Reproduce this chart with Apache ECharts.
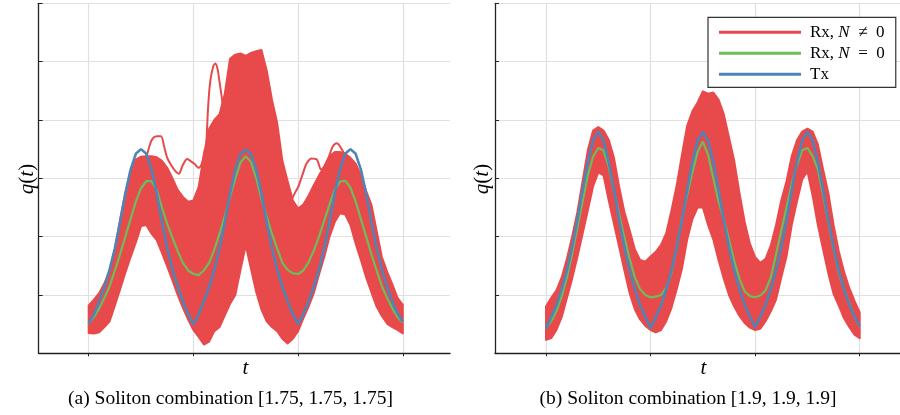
<!DOCTYPE html>
<html>
<head>
<meta charset="utf-8">
<script src="https://cdn.jsdelivr.net/npm/echarts@6.0.0/dist/echarts.min.js"></script>
<style>
  html, body { margin: 0; padding: 0; background: #fff; }
  #chart { width: 900px; height: 415px; }
</style>
</head>
<body>
<div id="chart"></div>
<script>
// sample positions along t (tick marks sit at 0, 1, 2, 3)
const tValues = [0,0.05,0.1,0.15,0.2,0.25,0.3,0.35,0.4,0.45,0.5,0.55,0.6,0.65,0.7,0.75,0.8,0.85,0.9,0.95,1,
  1.05,1.1,1.15,1.2,1.25,1.3,1.35,1.4,1.45,1.5,1.55,1.6,1.65,1.7,1.75,1.8,1.85,1.9,1.95,2,
  2.05,2.1,2.15,2.2,2.25,2.3,2.35,2.4,2.45,2.5,2.55,2.6,2.65,2.7,2.75,2.8,2.85,2.9,2.95,3];
const xTicks = [0, 1, 2, 3];

// (a) [1.75, 1.75, 1.75]
const txA = [0.51,0.67,0.89,1.14,1.44,1.80,2.25,2.74,3.15,3.42,3.50,3.42,3.15,2.74,2.25,1.80,1.44,1.14,0.89,0.67,0.49,
  0.67,0.89,1.14,1.44,1.80,2.25,2.74,3.15,3.42,3.49,3.42,3.15,2.74,2.25,1.80,1.44,1.14,0.89,0.67,0.50,
  0.67,0.89,1.14,1.44,1.80,2.25,2.74,3.15,3.42,3.50,3.42,3.15,2.74,2.25,1.80,1.44,1.14,0.89,0.68,0.54];
const rxCleanA = [0.51,0.62,0.77,0.95,1.15,1.42,1.70,2.00,2.30,2.60,2.83,2.95,2.95,2.80,2.50,2.22,1.98,1.75,1.55,1.42,1.36,
  1.34,1.42,1.55,1.78,2.05,2.35,2.68,3.00,3.27,3.38,3.28,3.00,2.65,2.35,2.05,1.80,1.55,1.43,1.37,1.36,
  1.42,1.56,1.76,2.00,2.28,2.55,2.80,2.94,2.96,2.84,2.60,2.30,2.00,1.70,1.42,1.15,0.95,0.77,0.62,0.53];
const rxUpperA = [0.82,0.92,1.03,1.20,1.42,1.78,2.30,2.75,3.12,3.32,3.37,3.38,3.38,3.36,3.30,3.18,3.00,2.80,2.68,2.60,2.62,
  2.85,3.40,3.85,4.00,4.10,4.45,5.05,5.12,5.14,5.10,5.15,5.18,5.20,4.85,4.35,3.95,3.30,2.95,2.62,2.48,
  2.55,2.70,2.88,3.05,3.20,3.38,3.45,3.45,3.42,3.35,3.25,3.05,2.78,2.55,2.10,1.65,1.40,1.18,0.95,0.83];
const rxLowerA = [0.35,0.34,0.36,0.45,0.55,0.82,1.10,1.38,1.65,1.90,2.18,2.20,2.05,1.94,1.72,1.49,1.25,1.00,0.78,0.58,0.40,
  0.28,0.15,0.20,0.38,0.45,0.65,0.85,1.00,1.43,1.85,1.45,1.05,0.75,0.55,0.45,0.38,0.25,0.17,0.25,0.38,
  0.60,0.80,1.03,1.35,1.65,2.00,2.25,2.40,2.38,2.20,1.88,1.60,1.30,1.05,0.80,0.64,0.51,0.45,0.40,0.34];
// single noisy traces that stick out of the bulk
const strayA1 = [[1.05,2.6],[1.09,3.0],[1.12,3.5],[1.14,4.2],[1.16,4.65],[1.19,4.92],[1.21,4.97],[1.23,4.88],[1.25,4.65],[1.27,4.4],[1.29,4.1],[1.31,3.8]];
const strayA2 = [[0.55,3.35],[0.58,3.55],[0.61,3.68],[0.65,3.72],[0.69,3.72],[0.72,3.55],[0.75,3.35],[0.79,3.22],[0.83,3.12],[0.86,3.08],[0.9,3.23],[0.94,3.33],[0.97,3.3],[1.01,3.25],[1.05,3.18],[1.08,3.25],[1.11,3.5]];
const strayA3 = [[1.93,2.6],[1.97,2.75],[2.0,2.85],[2.04,3.05],[2.08,3.25],[2.13,3.34],[2.18,3.32],[2.22,3.15],[2.25,3.2],[2.29,3.35],[2.33,3.54],[2.37,3.6],[2.41,3.52],[2.44,3.42]];

// (b) [1.9, 1.9, 1.9]
const txB = [0.43,0.62,0.82,1.10,1.42,1.82,2.28,2.80,3.28,3.65,3.80,3.65,3.28,2.80,2.28,1.82,1.42,1.10,0.82,0.62,0.43,
  0.62,0.82,1.10,1.42,1.82,2.28,2.80,3.28,3.65,3.79,3.65,3.28,2.80,2.28,1.82,1.42,1.10,0.83,0.63,0.45,
  0.63,0.83,1.10,1.42,1.82,2.28,2.80,3.28,3.65,3.80,3.65,3.28,2.80,2.28,1.82,1.42,1.10,0.83,0.63,0.46];
const rxCleanB = [0.43,0.55,0.72,0.98,1.30,1.70,2.15,2.60,3.05,3.37,3.52,3.48,3.20,2.78,2.38,1.98,1.62,1.30,1.10,1.00,0.96,
  0.97,1.00,1.12,1.38,1.82,2.30,2.72,3.10,3.45,3.63,3.40,3.00,2.60,2.30,1.95,1.58,1.28,1.06,0.98,0.96,
  0.99,1.08,1.30,1.70,2.10,2.50,2.90,3.22,3.48,3.52,3.38,3.15,2.72,2.25,1.80,1.38,1.10,0.85,0.62,0.46];
const rxUpperB = [0.80,0.95,1.08,1.30,1.62,2.00,2.42,2.95,3.48,3.82,3.88,3.82,3.66,3.35,2.85,2.42,2.11,1.78,1.60,1.57,1.66,
  1.74,1.86,2.06,2.45,2.88,3.40,3.90,4.15,4.30,4.49,4.45,4.47,4.35,4.10,3.70,3.30,2.75,2.25,1.88,1.65,
  1.55,1.62,1.85,2.20,2.62,2.95,3.38,3.65,3.80,3.85,3.80,3.58,3.15,2.75,2.20,1.75,1.40,1.12,0.90,0.70];
const rxLowerB = [0.23,0.26,0.40,0.62,0.95,1.28,1.65,2.05,2.45,2.86,3.10,3.05,2.62,2.22,1.82,1.42,1.03,0.75,0.58,0.47,0.40,
  0.36,0.40,0.55,0.78,1.10,1.45,1.95,2.30,2.50,2.50,2.20,1.95,1.60,1.28,1.00,0.80,0.64,0.52,0.44,0.40,
  0.42,0.55,0.72,0.92,1.30,1.66,2.20,2.60,2.98,3.12,2.70,2.20,1.78,1.37,1.02,0.82,0.60,0.45,0.32,0.26];

const RED = '#e8494b';
const GREEN = '#6cbd5c';
const BLUE = '#4f84b6';
const SERIF = '"Liberation Serif", "DejaVu Serif", serif';
const NAME_NOISY = 'Rx, N ≠ 0';
const NAME_CLEAN = 'Rx, N = 0';
const NAME_TX = 'Tx';

function pairs(ys) {
  return tValues.map((t, i) => [t, ys[i]]);
}

// the bulk of the noisy traces: region between lower and upper envelope
function bandSeries(k, lower, upper) {
  return {
    name: NAME_NOISY, type: 'custom', xAxisIndex: k, yAxisIndex: k,
    coordinateSystem: 'cartesian2d', z: 1, silent: true,
    itemStyle: { color: RED },
    data: [[1.5, 3]],
    renderItem: function (params, api) {
      const pts = [];
      for (let i = 0; i < tValues.length; i++) pts.push(api.coord([tValues[i], upper[i]]));
      for (let i = tValues.length - 1; i >= 0; i--) pts.push(api.coord([tValues[i], lower[i]]));
      return {
        type: 'polygon',
        shape: { points: pts },
        style: { fill: RED, stroke: RED, lineWidth: 2, lineJoin: 'round' }
      };
    }
  };
}

function panelSeries(k, lower, upper, clean, tx, strays) {
  const list = [bandSeries(k, lower, upper)];
  strays.forEach(s => {
    list.push({
      name: NAME_NOISY, type: 'line', xAxisIndex: k, yAxisIndex: k,
      data: s, symbol: 'none', z: 2, smooth: 0.3,
      itemStyle: { color: RED },
      lineStyle: { color: RED, width: 2 }
    });
  });
  list.push({
    name: NAME_CLEAN, type: 'line', xAxisIndex: k, yAxisIndex: k,
    data: pairs(clean), symbol: 'none', z: 3,
    itemStyle: { color: GREEN },
    lineStyle: { color: GREEN, width: 2.2 }
  });
  list.push({
    name: NAME_TX, type: 'line', xAxisIndex: k, yAxisIndex: k,
    data: pairs(tx), symbol: 'none', z: 4,
    itemStyle: { color: BLUE },
    lineStyle: { color: BLUE, width: 2.6 }
  });
  return list;
}

function xAxisFor(k, min, max) {
  return {
    type: 'value', gridIndex: k, min: min, max: max,
    axisLine: { show: true, onZero: false, lineStyle: { color: '#222', width: 1.3 } },
    axisTick: { show: true, inside: false, length: 3, customValues: xTicks, lineStyle: { color: '#222' } },
    axisLabel: { show: false, customValues: xTicks },
    splitLine: { show: true, customValues: xTicks, lineStyle: { color: '#e0e0e0', width: 1.2 } }
  };
}

function yAxisFor(k) {
  return {
    type: 'value', gridIndex: k, min: 0, max: 6, interval: 1,
    axisLine: { show: true, onZero: false, lineStyle: { color: '#222', width: 1.3 } },
    axisTick: { show: true, inside: true, length: 4, lineStyle: { color: '#222' } },
    axisLabel: { show: false },
    splitLine: { show: true, lineStyle: { color: '#e0e0e0', width: 1.2 } }
  };
}

function qLabel(x) {
  return {
    type: 'text', x: x, y: 179, rotation: Math.PI / 2,
    style: {
      text: '{i|q}{r|(}{i|t}{r|)}',
      textAlign: 'center', textVerticalAlign: 'middle', fill: '#000',
      rich: {
        i: { fontFamily: SERIF, fontSize: 21, fontStyle: 'italic' },
        r: { fontFamily: SERIF, fontSize: 21 }
      }
    }
  };
}

function tLabel(x) {
  return {
    type: 'text', x: x, y: 368,
    style: {
      text: 't', font: 'italic 21px ' + SERIF,
      textAlign: 'center', textVerticalAlign: 'middle', fill: '#000'
    }
  };
}

function caption(x, text) {
  return {
    type: 'text', x: x, y: 399,
    style: {
      text: text, font: '19.5px ' + SERIF,
      textAlign: 'center', textVerticalAlign: 'middle', fill: '#000'
    }
  };
}

const chart = echarts.init(document.getElementById('chart'));

const option = {
  animation: false,
  backgroundColor: '#fff',
  grid: [
    { left: 38.7, top: 3.3, width: 411.3, height: 350 },
    { left: 495, top: 3.3, width: 405, height: 350 }
  ],
  xAxis: [xAxisFor(0, -0.4776, 3.451), xAxisFor(1, -0.4877, 3.3854)],
  yAxis: [yAxisFor(0), yAxisFor(1)],
  legend: {
    data: [NAME_NOISY, NAME_CLEAN, NAME_TX],
    orient: 'vertical',
    left: 708, top: 17.3,
    padding: [6, 11, 4, 11],
    itemGap: 3,
    itemWidth: 82, itemHeight: 3,
    icon: 'rect',
    borderColor: '#333', borderWidth: 1.2, borderRadius: 0,
    backgroundColor: '#fff',
    selectedMode: false,
    formatter: function (name) {
      if (name === NAME_NOISY) return '{r|Rx, }{i|N}{r|\u2002≠\u20020}';
      if (name === NAME_CLEAN) return '{r|Rx, }{i|N}{r|\u2002=\u20020}';
      return '{r|Tx}';
    },
    textStyle: {
      color: '#000', fontFamily: SERIF, fontSize: 17, lineHeight: 18,
      padding: [0, 0, 0, 4],
      rich: {
        r: { fontFamily: SERIF, fontSize: 17, lineHeight: 18 },
        i: { fontFamily: SERIF, fontSize: 17, lineHeight: 18, fontStyle: 'italic' }
      }
    }
  },
  graphic: [
    qLabel(27), qLabel(482),
    tLabel(245.5), tLabel(703.3),
    caption(230.5, '(a) Soliton combination [1.75, 1.75, 1.75]'),
    caption(688, '(b) Soliton combination [1.9, 1.9, 1.9]')
  ],
  series: []
    .concat(panelSeries(0, rxLowerA, rxUpperA, rxCleanA, txA, [strayA1, strayA2, strayA3]))
    .concat(panelSeries(1, rxLowerB, rxUpperB, rxCleanB, txB, []))
};

chart.setOption(option);
</script>
</body>
</html>
